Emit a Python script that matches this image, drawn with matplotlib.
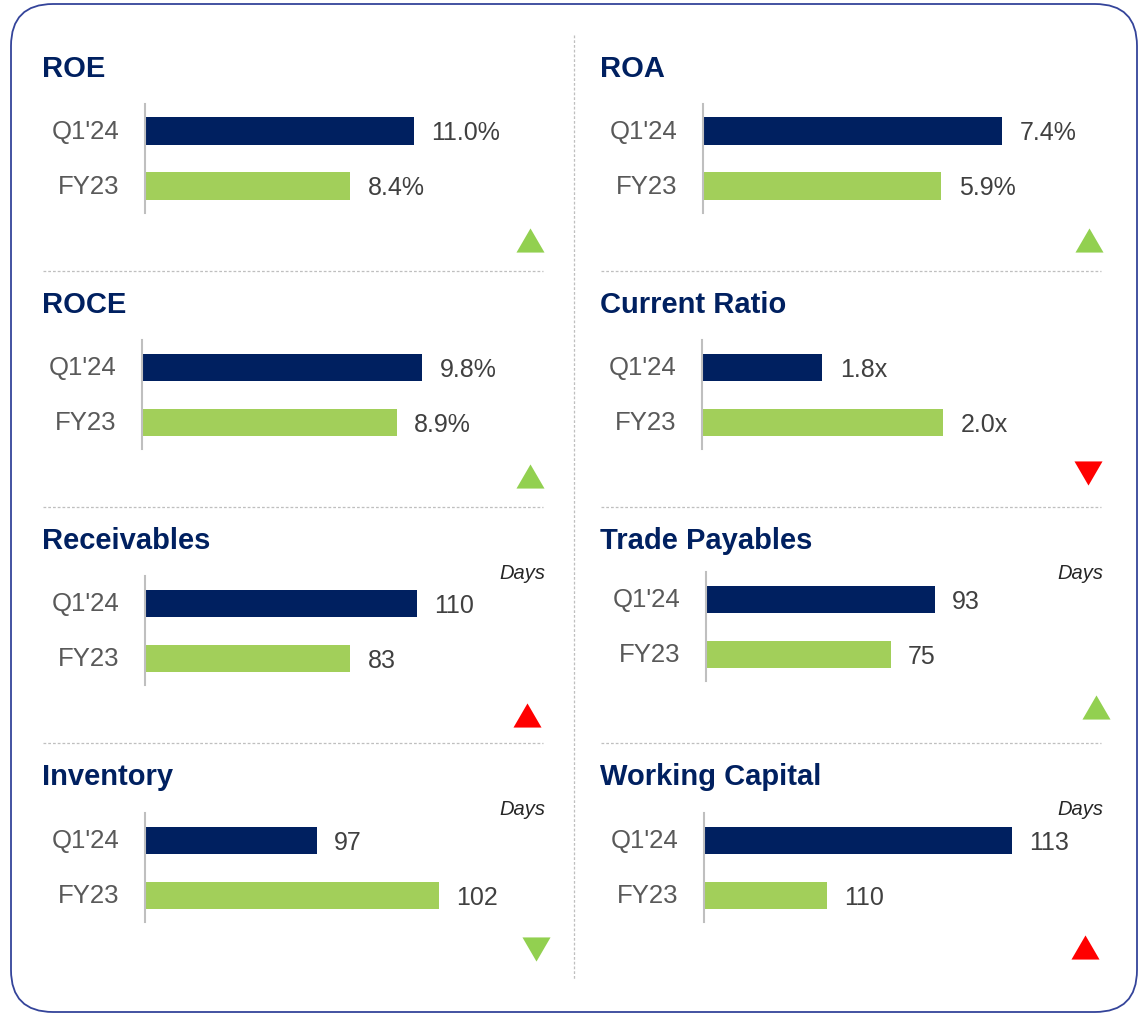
import matplotlib
matplotlib.use("Agg")
import matplotlib.pyplot as plt
from matplotlib.patches import FancyBboxPatch
from matplotlib.path import Path
from matplotlib.transforms import ScaledTranslation
import numpy as np

plt.rcParams['font.family'] = ['Liberation Sans', 'DejaVu Sans']

# ---------------- data ----------------
metrics = ["ROE", "ROA", "ROCE", "Current Ratio",
           "Receivables", "Trade Payables", "Inventory", "Working Capital"]
periods = ["Q1'24", "FY23"]
q1_24 = [11.0, 7.4, 9.8, 1.8, 110, 93, 97, 113]
fy23 = [8.4, 5.9, 8.9, 2.0, 83, 75, 102, 110]
value_fmt = ["{:.1f}%", "{:.1f}%", "{:.1f}%", "{:.1f}x",
             "{:.0f}", "{:.0f}", "{:.0f}", "{:.0f}"]
units = ["", "", "", "", "Days", "Days", "Days", "Days"]
axis_min = [0, 0, 0, 1.6, 0, 0, 90, 108]
trend = ["up", "up", "up", "down", "up", "up", "down", "up"]
trend_good = [True, True, True, False, False, True, True, False]

# ---------------- styles ----------------
W, H = 1140, 1015
NAVY = "#002060"
GREEN = "#A2CF5A"
TRI_GREEN = "#92D050"
TRI_RED = "#FF0000"
GRID = "#BFBFBF"

fig = plt.figure(figsize=(W / 100, H / 100), dpi=100)
bg = fig.add_axes([0, 0, 1, 1], zorder=0)
bg.set_xlim(0, W)
bg.set_ylim(H, 0)
bg.axis("off")

# rounded frame
frame = FancyBboxPatch((11, 4), 1126, 1008,
                       boxstyle="round,pad=0,rounding_size=42",
                       fc="white", ec="#34449A", lw=1.3)
bg.add_patch(frame)

dash = (0, (2.2, 1.6))
bg.plot([574, 574], [35, 980], color=GRID, lw=0.9, ls=dash)
for yy in [271, 507, 743]:
    bg.plot([43, 543], [yy, yy], color=GRID, lw=0.9, ls=dash)
    bg.plot([601, 1101], [yy, yy], color=GRID, lw=0.9, ls=dash)

# layout per panel (pixels)
axis_x = [145, 703, 142, 702, 145, 706, 145, 704]
q1_center = [130.5, 130.5, 367, 367, 603, 599, 840, 840]
title_base = [77, 77, 313, 313, 549, 549, 785, 785]
px_per_unit = [24.45, 40.4, 28.6, 602.5, 2.475, 2.46, 24.5, 61.6]
tri_pos = [(530, 240), (1089, 240), (530, 476), (1088, 472.5),
           (527, 715), (1096, 707), (536, 949), (1085, 947)]

up_tri = Path([(-0.5, -0.43), (0.5, -0.43), (0.0, 0.43), (-0.5, -0.43)],
              [Path.MOVETO, Path.LINETO, Path.LINETO, Path.CLOSEPOLY])
down_tri = Path([(-0.5, 0.43), (0.5, 0.43), (0.0, -0.43), (-0.5, 0.43)],
                [Path.MOVETO, Path.LINETO, Path.LINETO, Path.CLOSEPOLY])

SPACING = 55.0  # px between bar centers
AX_W = 380.0
lift = ScaledTranslation(0, 2.0 / 100, fig.dpi_scale_trans)

for i, name in enumerate(metrics):
    col = i % 2
    tx = 41.5 if col == 0 else 599.5
    bg.text(tx, title_base[i], name, fontsize=21, fontweight="bold",
            color=NAVY, ha="left", va="baseline")
    if units[i]:
        ux = 545 if col == 0 else 1103
        bg.text(ux, title_base[i] + 30, units[i], fontsize=14.5,
                style="italic", color="#262626", ha="right", va="baseline")

    top = q1_center[i] - 0.5 * SPACING + 0.5  # px
    height = 109.0
    left = axis_x[i]
    ax = fig.add_axes([left / W, 1 - (top + height) / H, AX_W / W, height / H],
                      zorder=2)
    ax.patch.set_alpha(0)
    ypos = np.array([1, 0])
    vals = [q1_24[i], fy23[i]]
    ax.barh(ypos, vals, height=0.5, color=[NAVY, GREEN], left=0)
    ax.set_xlim(axis_min[i], axis_min[i] + AX_W / px_per_unit[i])
    ax.set_ylim(-0.48, 1.5)
    ax.set_yticks(ypos)
    ax.set_yticklabels(periods, fontsize=18.5, color="#595959")
    ax.tick_params(axis="y", length=0, pad=18.5)
    for lab in ax.get_yticklabels():
        lab.set_transform(lab.get_transform() + lift)
    ax.set_xticks([])
    for s in ["top", "right", "bottom"]:
        ax.spines[s].set_visible(False)
    ax.spines["left"].set_color(GRID)
    ax.spines["left"].set_linewidth(1.5)
    for y, v in zip(ypos, vals):
        ax.annotate(value_fmt[i].format(v), xy=(v, y), xytext=(12.5, -1.5),
                    textcoords="offset points", ha="left", va="center",
                    fontsize=18, color="#404040", annotation_clip=False)

    marker = up_tri if trend[i] == "up" else down_tri
    bg.plot([tri_pos[i][0]], [tri_pos[i][1]], marker=marker, ms=20.2,
            color=TRI_GREEN if trend_good[i] else TRI_RED, mew=0, ls="none")

fig.savefig("out.png", dpi=100, facecolor="white")
